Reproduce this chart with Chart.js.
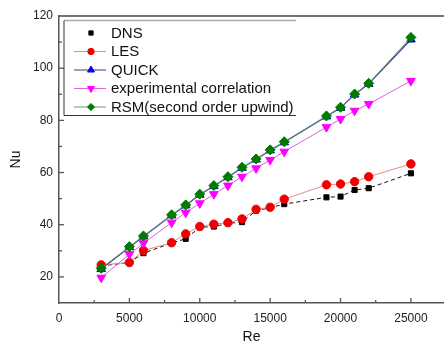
<!DOCTYPE html>
<html>
<head>
<meta charset="utf-8">
<script src="https://cdn.jsdelivr.net/npm/chart.js@4/dist/chart.umd.min.js"></script>
<style>
html,body{margin:0;padding:0;background:#fff;}
#wrap{width:444px;height:343px;position:relative;}
</style>
</head>
<body>
<div id="wrap"><canvas id="c" width="444" height="343"></canvas></div>
<script>
// ---- data ----
const re = [3000,5000,6000,8000,9000,10000,11000,12000,13000,14000,15000,16000,19000,20000,21000,22000,25000];
const dns = [24.2,25.5,29.1,33.0,34.6,39.0,39.3,40.5,41.0,45.4,46.5,47.9,50.5,50.8,53.3,54.0,59.7];
const les = [24.6,25.5,30.1,33.1,36.5,39.3,40.2,40.8,42.2,45.9,46.7,49.8,55.3,55.6,56.5,58.4,63.3];
const quick = [23.0,31.4,35.5,43.6,47.4,51.5,54.8,58.2,61.8,65.0,68.5,71.6,81.5,84.8,89.9,94.0,111.0];
const expCorr = [19.7,28.7,32.9,40.8,44.6,48.2,51.7,55.0,58.4,61.6,64.8,68.0,77.4,80.5,83.7,86.3,95.1];
const rsm = [23.3,31.6,35.7,43.8,47.6,51.7,55.0,58.4,62.0,65.2,68.7,71.8,81.7,85.0,90.1,94.2,111.8];
const seriesNames = ["DNS","LES","QUICK","experimental correlation","RSM(second order upwind)"];
const xTitle = "Re";
const yTitle = "Nu";
const xMajorTicks = [0,5000,10000,15000,20000,25000];
const yMajorTicks = [20,40,60,80,100,120];
const X_MAX = 27350;

const pts = (ys) => re.map((x,i)=>({x:x,y:ys[i]}));
const FONT = "Arial, 'Liberation Sans', sans-serif";

const datasets = [
  {label:seriesNames[0], data:pts(dns), borderColor:'#111', backgroundColor:'#000', borderWidth:1, borderDash:[4,3],
   pointStyle:'rect', pointRadius:3.6, order:4, legendLine:false, legendRadius:3},
  {label:seriesNames[1], data:pts(les), borderColor:'#e88888', backgroundColor:'#f00000', borderWidth:1,
   pointStyle:'circle', pointRadius:4.2, order:3, legendRadius:3.2},
  {label:seriesNames[2], data:pts(quick), borderColor:'#333a80', backgroundColor:'#0000e0', borderWidth:1.2,
   pointStyle:'triangle', pointRadius:5, order:1, legendRadius:4},
  {label:seriesNames[3], data:pts(expCorr), borderColor:'#e060e0', backgroundColor:'#ff00ff', borderWidth:1,
   pointStyle:'triangle', rotation:180, pointRadius:5, order:2, legendRadius:4},
  {label:seriesNames[4], data:pts(rsm), borderColor:'#6f9a8a', backgroundColor:'#007a00', borderWidth:1,
   pointStyle:'rectRot', pointRadius:5, order:0, legendRadius:3.6}
];
datasets.forEach(d=>{ d.pointBorderColor=d.backgroundColor; d.pointBackgroundColor=d.backgroundColor; d.pointBorderWidth=1; d.fill=false; d.tension=0; d.showLine=true; });

// stretch the plot area to the right edge of the canvas (the reference frame runs to the edge)
const fitRight = {
  id:'fitRight',
  afterLayout(chart){
    const R = chart.width;
    const x = chart.scales.x;
    x.right = R; x.width = R - x.left; x.configure();
    chart.chartArea.right = R; chart.chartArea.width = R - chart.chartArea.left;
  }
};

const extras = {
  id:'extras',
  afterDraw(chart){
    const ctx = chart.ctx, a = chart.chartArea;
    const xs = chart.scales.x, ys = chart.scales.y;
    ctx.save();
    // top frame line
    ctx.strokeStyle = '#444'; ctx.lineWidth = 1.5;
    ctx.beginPath(); ctx.moveTo(a.left, a.top); ctx.lineTo(a.right, a.top); ctx.stroke();
    // inward ticks
    ctx.strokeStyle = '#555'; ctx.lineWidth = 1.3;
    for (let v = 2500; v <= 27000; v += 2500) {
      const px = xs.getPixelForValue(v);
      const len = (v % 5000 === 0) ? 5 : 3;
      ctx.beginPath(); ctx.moveTo(px, a.bottom); ctx.lineTo(px, a.bottom - len); ctx.stroke();
    }
    for (let v = 20; v <= 110; v += 10) {
      const py = ys.getPixelForValue(v);
      const len = (v % 20 === 0) ? 5 : 3;
      ctx.beginPath(); ctx.moveTo(a.left, py); ctx.lineTo(a.left + len, py); ctx.stroke();
    }
    // legend
    const lx0 = 64, lx1 = 296, ly0 = 20.5, ly1 = 115.5;
    ctx.strokeStyle = '#aaa'; ctx.lineWidth = 1.5;
    ctx.beginPath(); ctx.moveTo(lx0, ly0); ctx.lineTo(lx1, ly0); ctx.stroke();
    ctx.strokeStyle = '#333'; ctx.lineWidth = 1;
    ctx.beginPath(); ctx.moveTo(lx0, ly0); ctx.lineTo(lx0, ly1); ctx.lineTo(lx1, ly1); ctx.stroke();
    const rowY = [33, 51.5, 70, 88.5, 107];
    ctx.font = "15px " + FONT;
    ctx.textBaseline = 'middle'; ctx.textAlign = 'left';
    chart.data.datasets.forEach((d, i) => {
      const y = rowY[i];
      if (d.legendLine !== false) {
        ctx.strokeStyle = d.borderColor; ctx.lineWidth = 1; ctx.setLineDash([]);
        ctx.beginPath(); ctx.moveTo(74, y); ctx.lineTo(106, y); ctx.stroke();
      }
      ctx.fillStyle = d.backgroundColor; ctx.strokeStyle = d.backgroundColor;
      Chart.helpers.drawPoint(ctx, {pointStyle:d.pointStyle, rotation:d.rotation||0, radius:d.legendRadius, borderWidth:1}, 91, y);
      ctx.fillStyle = '#111';
      ctx.fillText(d.label, 111, y + 0.5);
    });
    ctx.restore();
  }
};

new Chart(document.getElementById('c'), {
  type:'line',
  data:{datasets:datasets},
  options:{
    responsive:false, animation:false,
    layout:{padding:{top:16,right:0,left:0,bottom:0}},
    plugins:{legend:{display:false}, tooltip:{enabled:false}},
    scales:{
      x:{type:'linear', min:0, max:X_MAX,
         afterFit:(s)=>{s.height = 40; s.paddingRight = 0;},
         afterBuildTicks:(s)=>{ s.ticks = xMajorTicks.map(v=>({value:v})).concat([{value:X_MAX}]); },
         grid:{display:false, drawTicks:false},
         border:{display:true, color:'#555', width:1.5},
         ticks:{padding:8, color:'#222', font:{family:FONT, size:12}, maxRotation:0, autoSkip:false,
                callback:(v)=> xMajorTicks.includes(v) ? String(v) : ''},
         title:{display:true, text:xTitle, color:'#111', font:{family:FONT, size:14}, padding:{top:0,bottom:-3}}
      },
      y:{type:'linear', min:10, max:120,
         afterFit:(s)=>{s.width = 59;},
         afterBuildTicks:(s)=>{ s.ticks = yMajorTicks.map(v=>({value:v})); },
         grid:{display:false, drawTicks:false},
         border:{display:true, color:'#555', width:1.5},
         ticks:{padding:6, color:'#222', font:{family:FONT, size:12}, autoSkip:false,
                callback:(v)=> String(v)},
         title:{display:true, text:yTitle, color:'#111', font:{family:FONT, size:14}, padding:{top:8,bottom:0}}
      }
    }
  },
  plugins:[fitRight, extras]
});
</script>
</body>
</html>
